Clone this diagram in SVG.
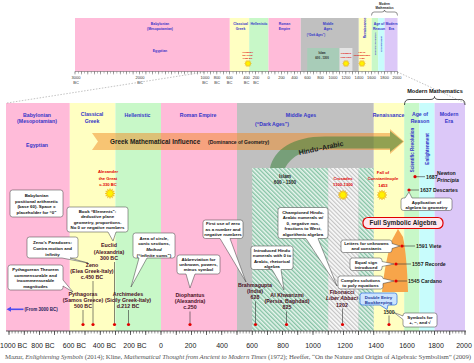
<svg xmlns="http://www.w3.org/2000/svg" width="474" height="363" viewBox="0 0 474 363">
<defs>
<style>
text{font-family:"Liberation Sans",Arial,sans-serif}
.bl{font-weight:bold;font-size:5.2px;fill:#3535C8;text-anchor:middle}
.tbl{font-weight:bold;font-size:3.4px;fill:#3535C8;text-anchor:middle}
.ev{font-weight:bold;font-size:4.2px;fill:#E00000;text-anchor:middle}
.tev{font-weight:bold;font-size:2.3px;fill:#E00000;text-anchor:middle}
.co{fill:#fff;stroke:#3a3a3a;stroke-width:0.5}
.ct{font-weight:bold;font-size:4.4px;fill:#111;text-anchor:middle}
.pn{font-weight:bold;font-size:5.3px;fill:#4A1025;text-anchor:middle}
.dt{font-weight:bold;font-size:5.2px;fill:#1a1a1a}
.dot{fill:#E00000}
.ld{stroke:#333;stroke-width:0.6;fill:none}
.ax{font-size:7px;fill:#222;text-anchor:middle}
.tax{font-size:4px;fill:#333;text-anchor:middle}
.cite{font-family:"Liberation Serif","Times New Roman",serif;font-size:6.8px;fill:#555}
.pink{fill:#FFBBD9}.yel{fill:#FFFFC2}.grn{fill:#C8F8C8}.gry{fill:#C0C0C0}.cyn{fill:#C8FCFC}.pur{fill:#DCC8F8}
.zoomln{stroke:#9a9a9a;stroke-width:0.6;stroke-dasharray:1.5 1.5;fill:none}
</style>
<pattern id="hg" width="3" height="3" patternUnits="userSpaceOnUse" patternTransform="rotate(-45)"><rect width="3" height="3" fill="#EAF6EF"/><rect width="1.4" height="3" fill="#86C3A5"/></pattern>
<pattern id="hc" width="3" height="3" patternUnits="userSpaceOnUse" patternTransform="rotate(-45)"><rect width="3" height="3" fill="#FAFAFA"/><rect width="1.2" height="3" fill="#C4C4C4"/></pattern>
<g id="sun"><polygon points="0,-5 0.78,-2.9 2.5,-4.33 2.12,-2.12 4.33,-2.5 2.9,-0.78 5,0 2.9,0.78 4.33,2.5 2.12,2.12 2.5,4.33 0.78,2.9 0,5 -0.78,2.9 -2.5,4.33 -2.12,2.12 -4.33,2.5 -2.9,0.78 -5,0 -2.9,-0.78 -4.33,-2.5 -2.12,-2.12 -2.5,-4.33 -0.78,-2.9" fill="#FFE400" stroke="#E59A00" stroke-width="0.4"/><circle r="2.4" fill="#FFF200"/></g>
</defs>
<rect width="474" height="363" fill="#fff"/>

<g id="top-strip">
<rect class="pink" x="75" y="18" width="154.8" height="53.5"/>
<rect class="yel" x="229.8" y="18" width="19.4" height="53.5"/>
<rect class="grn" x="249.2" y="18" width="19.3" height="53.5"/>
<rect class="pink" x="268.5" y="18" width="32.25" height="53.5"/>
<rect class="gry" x="300.75" y="18" width="58.05" height="53.5"/>
<rect x="307.2" y="48" width="32.3" height="23.5" fill="#A8CCB8"/>
<rect x="339.5" y="48" width="12.9" height="23.5" fill="#E4E4E4"/>
<rect class="yel" x="358.8" y="18" width="12.9" height="53.5"/>
<rect class="grn" x="371.7" y="18" width="6.5" height="53.5"/>
<rect class="cyn" x="378.2" y="18" width="6.4" height="53.5"/>
<rect class="pur" x="384.6" y="18" width="12.9" height="53.5"/>
<text class="tbl" x="160" y="25.4">Babylonian</text>
<text class="tbl" x="160" y="29.7">(Mesopotamian)</text>
<text class="tbl" x="160" y="52">Egyptian</text>
<text class="tbl" x="240.5" y="25.4">Classical</text>
<text class="tbl" x="240.5" y="29.7">Greek</text>
<text class="tbl" x="259" y="25.4">Hellenistic</text>
<text class="tbl" x="284.5" y="25.4">Roman</text>
<text class="tbl" x="284.5" y="29.7">Empire</text>
<text class="tbl" x="328" y="25.4">Middle</text>
<text class="tbl" x="328" y="29.7">Ages</text>
<text class="tbl" x="316" y="35.8" style="font-size:2.8px">(“Dark Ages”)</text>
<text class="tbl" transform="translate(365,28) rotate(-90)" y="1.2">Renaissance</text>
<text class="tbl" x="379" y="25.4">Age of</text>
<text class="tbl" x="379" y="29.7">Reason</text>
<text class="tbl" x="391.5" y="25.4">Modern</text>
<text class="tbl" x="391.5" y="29.7">Era</text>
<text class="tbl" transform="translate(375.5,44) rotate(-90)" y="0.8" style="font-size:2.3px">Scientific Revolution</text>
<text class="tbl" transform="translate(381.5,44) rotate(-90)" y="0.8" style="font-size:2.3px">Enlightenment</text>
<text x="322" y="54.3" text-anchor="middle" style="font-weight:bold;font-size:2.8px;fill:#222">Islam</text>
<text x="322" y="58.8" text-anchor="middle" style="font-weight:bold;font-size:2.8px;fill:#222">600 - 1300</text>
<text class="tev" x="247.5" y="53.3">Alexander</text>
<text class="tev" x="247.5" y="56.3">the Great</text>
<text class="tev" x="247.5" y="59.3">c.330 BC</text>
<text class="tev" x="346" y="54.3">Crusades</text>
<text class="tev" x="346" y="57.8">1100-1300</text>
<text class="tev" x="362" y="53.3">Fall of</text>
<text class="tev" x="362" y="56.3">Constantinople</text>
<text class="tev" x="362" y="59.3">1453</text>
<use href="#sun" transform="translate(248,63.5) scale(0.7)"/>
<use href="#sun" transform="translate(346,63.5) scale(0.7)"/>
<use href="#sun" transform="translate(362,63.5) scale(0.7)"/>
<text x="384.5" y="5" text-anchor="middle" style="font-weight:bold;font-size:3px;fill:#222">Modern</text>
<text x="384.5" y="9" text-anchor="middle" style="font-weight:bold;font-size:3px;fill:#222">Mathematics</text>
<path d="M371.5,15.5 Q371.5,12 374,12 H382 Q384.5,12 384.5,10 Q384.5,12 387,12 H395 Q397.5,12 397.5,15.5" fill="none" stroke="#222" stroke-width="0.5"/>
<line x1="75" y1="71.5" x2="397.5" y2="71.5" stroke="#555" stroke-width="0.5"/>
<line x1="74.8" y1="72.5" x2="397.8" y2="72.5" stroke="#555" stroke-width="2" stroke-dasharray="0.4 2.825"/>
<line x1="74.8" y1="73" x2="397.8" y2="73" stroke="#555" stroke-width="3" stroke-dasharray="0.4 6.05"/>
<g class="tax">
<text x="76" y="78.5">3000</text><text x="76" y="83.5">BC</text>
<text x="140" y="78.5">2000</text><text x="140" y="83.5">BC</text>
<text x="205" y="78.5">1000</text><text x="205" y="83.5">BC</text>
<text x="217" y="78.5">800</text><text x="217" y="83.5">BC</text>
<text x="229.5" y="78.5">600</text><text x="229.5" y="83.5">BC</text>
<text x="246.5" y="78.5">400</text><text x="246.5" y="83.5">BC</text>
<text x="256" y="78.5">200</text><text x="256" y="83.5">BC</text>
<text x="268.5" y="78.5">0</text>
<text x="281.5" y="78.5">200</text>
<text x="294.5" y="78.5">400</text>
<text x="307.5" y="78.5">600</text>
<text x="320.5" y="78.5">800</text>
<text x="333" y="78.5">1000</text>
<text x="346" y="78.5">1200</text>
<text x="359" y="78.5">1400</text>
<text x="371.5" y="78.5">1600</text>
<text x="384.5" y="78.5">1800</text>
<text x="397" y="78.5">2000</text>
</g>
</g>

<g id="bands">
<rect class="pink" x="6" y="103" width="63.8" height="228"/>
<rect class="yel" x="69.8" y="103" width="45.6" height="228"/>
<rect class="grn" x="115.4" y="103" width="45.6" height="228"/>
<rect class="pink" x="161" y="103" width="76" height="228"/>
<rect class="gry" x="237" y="103" width="136.8" height="228"/>
<rect x="252.2" y="168" width="76" height="163" fill="url(#hg)"/>
<rect x="328.2" y="168" width="30.4" height="163" fill="url(#hc)"/>
<rect x="358.6" y="168" width="15.2" height="163" fill="url(#hg)"/>
<rect class="yel" x="373.8" y="103" width="30.4" height="228"/>
<rect class="grn" x="404.2" y="103" width="15.2" height="228"/>
<rect class="cyn" x="419.4" y="103" width="15.2" height="228"/>
<rect class="pur" x="434.6" y="103" width="30.4" height="228"/>
<text class="bl" x="37" y="116.8">Babylonian</text>
<text class="bl" x="37" y="123.3">(Mesopotamian)</text>
<text class="bl" x="37" y="146.8">Egyptian</text>
<text class="bl" x="92" y="116.3">Classical</text>
<text class="bl" x="92" y="122.8">Greek</text>
<text class="bl" x="137.5" y="116.8">Hellenistic</text>
<text class="bl" x="198" y="116.8">Roman Empire</text>
<text class="bl" x="301" y="116.8">Middle Ages</text>
<text class="bl" x="272" y="126">(“Dark Ages”)</text>
<text class="bl" x="388.5" y="116.8">Renaissance</text>
<text class="bl" x="420" y="116.3">Age of</text>
<text class="bl" x="420" y="122.8">Reason</text>
<text class="bl" x="449" y="116.3">Modern</text>
<text class="bl" x="449" y="122.8">Era</text>
<text class="bl" transform="translate(412.5,150) rotate(-90)" y="1.6" style="font-size:4.5px">Scientific Revolution</text>
<text class="bl" transform="translate(427,149) rotate(-90)" y="1.6" style="font-size:4.5px">Enlightenment</text>
<text x="435" y="92.5" text-anchor="middle" style="font-weight:bold;font-size:5.6px;fill:#111">Modern Mathematics</text>
<path d="M404.5,105 Q404.5,99.5 409,99.5 H430 Q434.5,99.5 434.5,96.5 Q434.5,99.5 439,99.5 H460.5 Q465,99.5 465,105" fill="none" stroke="#222" stroke-width="0.8"/>
</g>

<g id="influence-arrows">
<path d="M92,133 H390 V129 L404,141.5 L390,154 V150 H92 L98,141.5 Z" fill="#F08A24" fill-opacity="0.5"/>
<path d="M270,168 C274,150 292,136.5 325,136.5 H390 V131 L403,141.5 L390,152 V148.5 H327 C305,148.5 291,156 285,168 Z" fill="#2E7D32" fill-opacity="0.5"/>
<text x="110" y="144.2" style="font-weight:bold;font-size:6.4px;fill:#1a1a1a">Greek Mathematical Influence</text>
<text x="208" y="143.8" style="font-weight:bold;font-size:5px;fill:#1a1a1a">(Dominance of Geometry)</text>
<text transform="translate(321,148) rotate(-12)" y="2.4" text-anchor="middle" style="font-weight:bold;font-size:7px;fill:#1a1a1a">Hindu–Arabic</text>
</g>

<g id="events">
<text x="285" y="177.6" text-anchor="middle" style="font-weight:bold;font-size:4.7px;fill:#222">Islam</text>
<text x="285" y="184.3" text-anchor="middle" style="font-weight:bold;font-size:4.7px;fill:#222">600 - 1300</text>
<text class="ev" x="108" y="173.3">Alexander</text>
<text class="ev" x="108" y="179.8">the Great</text>
<text class="ev" x="108" y="186.1">c.330 BC</text>
<use href="#sun" transform="translate(110,193.5)"/>
<text class="ev" x="343" y="179.5">Crusades</text>
<text class="ev" x="343" y="186.3">1100-1300</text>
<use href="#sun" transform="translate(343,195)"/>
<text class="ev" x="383" y="173.5">Fall of</text>
<text class="ev" x="383" y="180.3">Constantinople</text>
<text class="ev" x="383" y="187.2">1453</text>
<use href="#sun" transform="translate(382,195)"/>
</g>

<g id="symbolic-growth">
<path d="M382,292 C384,270 388,252 392,240 L398,229 L403,237 C405,247 407,262 408,292 Z" fill="#F7A54A"/>
</g>

<g id="full-symbolic-algebra">
<rect x="363" y="217.5" width="80" height="11" rx="5" fill="#FFE6EE" stroke="#E00000" stroke-width="1.2"/>
<text x="403" y="225.3" text-anchor="middle" style="font-weight:bold;font-size:6.4px;fill:#222">Full Symbolic Algebra</text>
</g>

<g id="callout-babylonian">
<rect class="co" x="10" y="190" width="53" height="27" rx="2.5"/>
<text class="ct" x="36.5" y="197.1">Babylonian</text>
<text class="ct" x="36.5" y="202.6">positional arithmetic</text>
<text class="ct" x="36.5" y="208.1">(base 60). Space =</text>
<text class="ct" x="36.5" y="213.6">placeholder for “0”</text>
</g>
<g id="callout-elements">
<path class="co" d="M69.5,207 H125.5 Q128,207 128,209.5 V229.5 Q128,232 125.5,232 H116 L113,241 L108,232 H69.5 Q67,232 67,229.5 V209.5 Q67,207 69.5,207 Z"/>
<text class="ct" x="97.5" y="212.6">Book “Elements”:</text>
<text class="ct" x="97.5" y="218.3">deductive plane</text>
<text class="ct" x="97.5" y="223.9">geometry, proportions.</text>
<text class="ct" x="97.5" y="229.3">No 0 or negative numbers</text>
</g>
<g id="callout-zeno">
<path class="co" d="M29.5,237 H75.5 Q78,237 78,239.5 V255.5 Q78,258 75.5,258 H70 L88,263 L62,258 H29.5 Q27,258 27,255.5 V239.5 Q27,237 29.5,237 Z"/>
<text class="ct" x="52.5" y="244.3">Zeno’s Paradoxes:</text>
<text class="ct" x="52.5" y="249.9">Contra motion and</text>
<text class="ct" x="52.5" y="255.6">infinity</text>
</g>
<g id="callout-pythagorean">
<path class="co" d="M10.5,265 H60.5 Q63,265 63,267.5 V280 L73,292 L63,286 V287.5 Q63,290 60.5,290 H10.5 Q8,290 8,287.5 V267.5 Q8,265 10.5,265 Z"/>
<text class="ct" x="35.5" y="271.1">Pythagorean Theorem</text>
<text class="ct" x="35.5" y="276.6">commensurable and</text>
<text class="ct" x="35.5" y="282.1">incommensurable</text>
<text class="ct" x="35.5" y="287.6">magnitudes</text>
</g>
<g id="callout-archimedes">
<path class="co" d="M135.5,233 H172.5 Q175,233 175,235.5 V255.5 Q175,258 172.5,258 H147 L131,287 L139,258 H135.5 Q133,258 133,255.5 V235.5 Q133,233 135.5,233 Z"/>
<text class="ct" x="154" y="239.9">Area of circle,</text>
<text class="ct" x="154" y="245.3">conic sections,</text>
<text class="ct" x="154" y="250.9" font-style="italic">Method</text>
<text class="ct" x="154" y="256.6">(“infinite sums”)</text>
</g>
<g id="callout-zero">
<path class="co" d="M205.5,220 H240.5 Q243,220 243,222.5 V236 Q243,238.5 240.5,238.5 H230 L246,282 L220,238.5 H205.5 Q203,238.5 203,236 V222.5 Q203,220 205.5,220 Z"/>
<text class="ct" x="223" y="225.1">First use of zero</text>
<text class="ct" x="223" y="230.6">as a number and</text>
<text class="ct" x="223" y="236.1">negative numbers</text>
</g>
<g id="callout-diophantus">
<path class="co" d="M179.5,255 H217.5 Q220,255 220,257.5 V271.5 Q220,274 217.5,274 H195 L190,288 L186,274 H179.5 Q177,274 177,271.5 V257.5 Q177,255 179.5,255 Z"/>
<text class="ct" x="198.5" y="261.1">Abbreviation for</text>
<text class="ct" x="198.5" y="266.1">unknown, powers,</text>
<text class="ct" x="198.5" y="271.1">minus symbol</text>
</g>
<g id="callout-khwarizmi">
<path class="co" d="M253.5,246 H290.5 Q293,246 293,248.5 V267 Q293,269.5 290.5,269.5 H281 L284,290 L272,269.5 H253.5 Q251,269.5 251,267 V248.5 Q251,246 253.5,246 Z"/>
<text class="ct" x="272" y="252.1">Introduced Hindu</text>
<text class="ct" x="272" y="257.4">numerals with 0 to</text>
<text class="ct" x="272" y="262.6">Arabic, rhetorical</text>
<text class="ct" x="272" y="267.8">algebra</text>
</g>
<g id="callout-fibonacci">
<path class="co" d="M280.5,207.5 H325.5 Q328,207.5 328,210 V236 Q328,238.5 325.5,238.5 H318 L337,286 L306,238.5 H280.5 Q278,238.5 278,236 V210 Q278,207.5 280.5,207.5 Z"/>
<text class="ct" x="303" y="213.9">Championed Hindu-</text>
<text class="ct" x="303" y="219.3">Arabic numerals w/</text>
<text class="ct" x="303" y="224.8">0, negative nos,</text>
<text class="ct" x="303" y="230.3">fractions to West,</text>
<text class="ct" x="303" y="235.8">algorithmic algebra</text>
</g>
<g id="callout-descartes">
<path class="co" d="M403.5,198 H405 L409,192 L412,198 H449.5 Q452,198 452,200.5 V208 Q452,210.5 449.5,210.5 H403.5 Q401,210.5 401,208 V200.5 Q401,198 403.5,198 Z"/>
<text class="ct" x="426.5" y="203.6">Application of</text>
<text class="ct" x="426.5" y="208.6">algebra to geometry</text>
</g>
<g id="callout-viete">
<path class="co" d="M343.5,240 H389.5 Q392,240 392,242.5 V243.5 L400,246 L392,248.5 V250 Q392,252.5 389.5,252.5 H343.5 Q341,252.5 341,250 V242.5 Q341,240 343.5,240 Z"/>
<text class="ct" x="366.5" y="245.1">Letters for unknowns</text>
<text class="ct" x="366.5" y="250.4">and constants</text>
</g>
<g id="callout-recorde">
<path class="co" d="M352.5,258 H379.5 Q382,258 382,260.5 V261.5 L394,264 L382,266.5 V268 Q382,270.5 379.5,270.5 H352.5 Q350,270.5 350,268 V260.5 Q350,258 352.5,258 Z"/>
<text class="ct" x="366" y="263.6">Equal sign</text>
<text class="ct" x="366" y="268.6">introduced</text>
</g>
<g id="callout-cardano">
<path class="co" d="M340.5,276 H380.5 Q383,276 383,278.5 L394,281 L383,283.5 V286.5 Q383,289 380.5,289 H340.5 Q338,289 338,286.5 V278.5 Q338,276 340.5,276 Z"/>
<text class="ct" x="360.5" y="281.6">Complex solutions</text>
<text class="ct" x="360.5" y="286.6">to poly equations</text>
</g>
<g id="callout-bookkeeping">
<path d="M362.5,293 H394.5 Q397,293 397,295.5 V302.5 Q397,305 394.5,305 H388 L387,309.5 L380,305 H362.5 Q360,305 360,302.5 V295.5 Q360,293 362.5,293 Z" fill="#CCE4FF" stroke="#3A7AE0" stroke-width="0.8"/>
<text class="ct" x="378.5" y="298.6" style="fill:#1A3A9A">Double Entry</text>
<text class="ct" x="378.5" y="303.6" style="fill:#1A3A9A">Bookkeeping</text>
</g>
<g id="callout-symbols">
<path class="co" d="M405.5,313 H434.5 Q437,313 437,315.5 V324.5 Q437,327 434.5,327 H405.5 Q403,327 403,324.5 V319.5 L394,312.5 L403,316 V315.5 Q403,313 405.5,313 Z"/>
<text class="ct" x="420" y="319.3">Symbols for</text>
<text class="ct" x="420" y="324.3">+, −, and √</text>
</g>

<g id="dates-right">
<text class="dt" x="426" y="178.5">1687</text>
<text class="dt" x="437" y="175">Newton</text>
<text class="dt" x="437" y="181.8" font-style="italic">Principia</text>
<text class="dt" x="420" y="191.8">1637 Descartes</text>
<text class="dt" x="416" y="247.8">1591 Viete</text>
<text class="dt" x="412" y="265.8">1557 Recorde</text>
<text class="dt" x="408" y="282.8">1545 Cardano</text>
<text class="dt" x="389" y="313.8" text-anchor="middle" style="font-size:5px">1500</text>
</g>

<g id="people">
<text class="pn" x="109" y="247.3">Euclid</text>
<text class="pn" x="109" y="253.8">(Alexandria)</text>
<text class="pn" x="109" y="260.3">300 BC</text>
<text class="pn" x="92" y="267.3">Zeno</text>
<text class="pn" x="92" y="273.3">(Elea Greek-Italy)</text>
<text class="pn" x="92" y="279.3">c.450 BC</text>
<text class="pn" x="83" y="295.8">Pythagoras</text>
<text class="pn" x="83" y="301.8">(Samos Greece)</text>
<text class="pn" x="83" y="307.8">500 BC</text>
<text class="pn" x="128" y="295.8">Archimedes</text>
<text class="pn" x="128" y="301.8">(Sicily Greek-Italy)</text>
<text class="pn" x="128" y="307.8">d.212 BC</text>
<text class="pn" x="190" y="297.3">Diophantus</text>
<text class="pn" x="190" y="303.3">(Alexandria)</text>
<text class="pn" x="190" y="309.3">c.250</text>
<text class="pn" x="255" y="287.3">Brahmagupta</text>
<text class="pn" x="255" y="293.3">(India)</text>
<text class="pn" x="255" y="299.3">628</text>
<text class="pn" x="287" y="297.3">Al Khwarizmi</text>
<text class="pn" x="287" y="303.3">(Persia, Baghdad)</text>
<text class="pn" x="287" y="309.3">825</text>
<text class="pn" x="342" y="294.2">Fibonacci</text>
<text class="pn" x="342" y="300.4" font-style="italic">Liber Abbaci</text>
<text class="pn" x="342" y="306.6">1202</text>
<path d="M23.5,309.3 H10" stroke="#4B4BF0" stroke-width="1.6"/>
<path d="M6.5,309.3 L11,306.8 L11,311.8 Z" fill="#4B4BF0"/>
<text x="24.5" y="310.9" style="font-weight:bold;font-size:4.5px;fill:#1c1c5a">(From 3000 BC)</text>
</g>

<g id="connectors">
<line class="zoomln" x1="7" y1="103" x2="205" y2="72"/>
<line class="zoomln" x1="397.5" y1="72" x2="465" y2="103"/>
<line class="ld" x1="114.5" y1="262" x2="114.5" y2="323"/>
<line class="ld" x1="93" y1="281" x2="93" y2="323"/>
<line class="ld" x1="83" y1="310" x2="83" y2="323"/>
<line class="ld" x1="128.5" y1="310" x2="128.5" y2="323"/>
<line class="ld" x1="190" y1="311.5" x2="190" y2="323"/>
<line class="ld" x1="255.5" y1="301.5" x2="255.5" y2="323"/>
<line class="ld" x1="286.5" y1="311.5" x2="286.5" y2="323"/>
<line class="ld" x1="342.5" y1="308.5" x2="342.5" y2="323"/>
<line class="ld" x1="389" y1="315.5" x2="389" y2="323"/>
<line class="ld" x1="416" y1="176.7" x2="425" y2="176.7"/>
<line class="ld" x1="410" y1="190" x2="419" y2="190"/>
<line class="ld" x1="403" y1="246" x2="415" y2="246"/>
<line class="ld" x1="397" y1="264" x2="411" y2="264"/>
<line class="ld" x1="397" y1="281" x2="407" y2="281"/>
<circle class="dot" cx="83" cy="324.5" r="1.6"/>
<circle class="dot" cx="93" cy="324.5" r="1.6"/>
<circle class="dot" cx="114.5" cy="324.5" r="1.6"/>
<circle class="dot" cx="128.5" cy="324.5" r="1.6"/>
<circle class="dot" cx="190" cy="324.5" r="1.6"/>
<circle class="dot" cx="255.5" cy="324.5" r="1.6"/>
<circle class="dot" cx="286.5" cy="324.5" r="1.6"/>
<circle class="dot" cx="342.5" cy="324.5" r="1.6"/>
<circle class="dot" cx="389" cy="324.5" r="1.6"/>
<circle class="dot" cx="415" cy="176.7" r="1.6"/>
<circle class="dot" cx="409" cy="190" r="1.6"/>
<circle class="dot" cx="402" cy="246" r="1.6"/>
<circle class="dot" cx="396" cy="264" r="1.6"/>
<circle class="dot" cx="396" cy="281" r="1.6"/>
</g>

<g id="axis">
<line x1="6" y1="331" x2="466" y2="331" stroke="#333" stroke-width="0.8"/>
<line x1="8.75" y1="332.3" x2="466" y2="332.3" stroke="#333" stroke-width="2.6" stroke-dasharray="0.5 2.54"/>
<line x1="8.65" y1="333" x2="466" y2="333" stroke="#333" stroke-width="4" stroke-dasharray="0.7 14.5"/>
<text class="ax" x="0" y="347.5" style="text-anchor:start">1000 BC</text>
<text class="ax" x="43" y="347.5">800 BC</text>
<text class="ax" x="74.5" y="347.5">600 BC</text>
<text class="ax" x="104.5" y="347.5">400 BC</text>
<text class="ax" x="135" y="347.5">200 BC</text>
<text class="ax" x="161" y="347.5">0</text>
<text class="ax" x="190.5" y="347.5">200</text>
<text class="ax" x="222" y="347.5">400</text>
<text class="ax" x="252" y="347.5">600</text>
<text class="ax" x="283" y="347.5">800</text>
<text class="ax" x="313" y="347.5">1000</text>
<text class="ax" x="345" y="347.5">1200</text>
<text class="ax" x="376" y="347.5">1400</text>
<text class="ax" x="407" y="347.5">1600</text>
<text class="ax" x="436" y="347.5">1800</text>
<text class="ax" x="464" y="347.5">2000</text>
</g>

<text class="cite" x="5" y="358.5" textLength="466" lengthAdjust="spacing">Mazur, <tspan font-style="italic">Enlightening Symbols</tspan> (2014);  Kline, <tspan font-style="italic">Mathematical Thought from Ancient to Modern Times</tspan> (1972);  Heeffer, “On the Nature and Origin of Algebraic Symbolism” (2009)</text>
</svg>
